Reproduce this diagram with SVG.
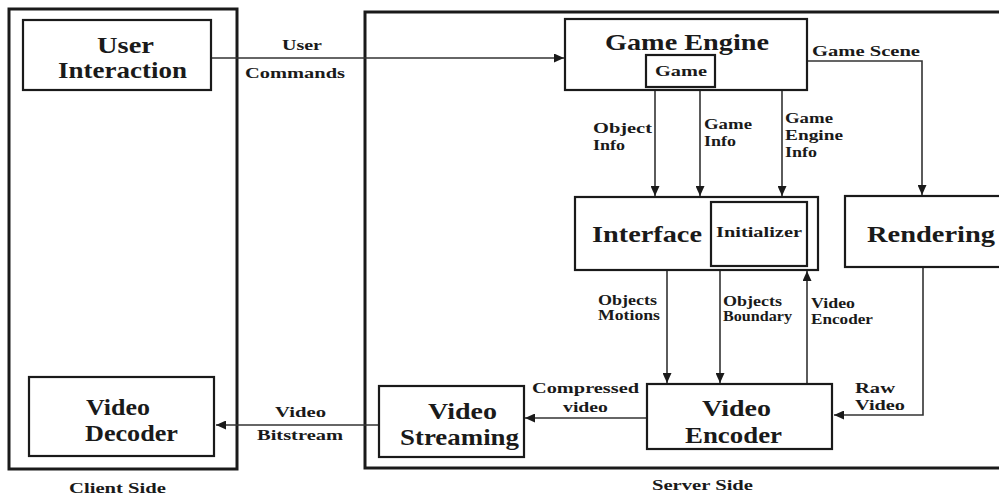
<svg xmlns="http://www.w3.org/2000/svg" width="999" height="497" viewBox="0 0 999 497">
<style>
.c{fill:none;stroke:#1a1a1a;stroke-width:3}
.b{fill:#fff;stroke:#1a1a1a;stroke-width:2.2}
.ib{fill:none;stroke:#1a1a1a;stroke-width:2.2}
.e{fill:none;stroke:#333;stroke-width:1.6}
text{font-family:"Liberation Serif","Times New Roman",serif;font-weight:bold;fill:#1a1a1a}
.L{font-size:23px}
.S{font-size:15px}
</style>
<defs>
<marker id="ah" markerUnits="userSpaceOnUse" markerWidth="11" markerHeight="9" refX="10" refY="4.5" orient="auto">
<path d="M0,0 L10,4.5 L0,9 z" fill="#1a1a1a"/>
</marker>
</defs>
<rect width="999" height="497" fill="#fff"/>
<g id="client-side">
<rect class="c" x="9" y="9" width="228" height="460"/>
<text class="S" x="69" y="493" textLength="97" lengthAdjust="spacingAndGlyphs">Client Side</text>
</g>
<g id="server-side">
<rect class="c" x="365" y="12" width="640" height="456"/>
<text class="S" x="652" y="490" textLength="101" lengthAdjust="spacingAndGlyphs">Server Side</text>
</g>
<g id="connectors">
<path class="e" d="M211,58 H564" marker-end="url(#ah)"/>
<path class="e" d="M807,61 H922 V195" marker-end="url(#ah)"/>
<path class="e" d="M655,90 V196" marker-end="url(#ah)"/>
<path class="e" d="M700,90 V196" marker-end="url(#ah)"/>
<path class="e" d="M782,90 V196" marker-end="url(#ah)"/>
<path class="e" d="M667,270 V383" marker-end="url(#ah)"/>
<path class="e" d="M720,270 V383" marker-end="url(#ah)"/>
<path class="e" d="M807,384 V271" marker-end="url(#ah)"/>
<path class="e" d="M923,267 V415 H834" marker-end="url(#ah)"/>
<path class="e" d="M647,418 H525" marker-end="url(#ah)"/>
<path class="e" d="M379,425 H216" marker-end="url(#ah)"/>
<text class="S" x="282" y="50" textLength="40" lengthAdjust="spacingAndGlyphs">User</text>
<text class="S" x="245" y="78" textLength="100" lengthAdjust="spacingAndGlyphs">Commands</text>
<text class="S" x="812" y="56" textLength="108" lengthAdjust="spacingAndGlyphs">Game Scene</text>
<text class="S" x="593" y="133" textLength="59" lengthAdjust="spacingAndGlyphs">Object</text>
<text class="S" x="593" y="150" textLength="32" lengthAdjust="spacingAndGlyphs">Info</text>
<text class="S" x="704" y="129" textLength="48" lengthAdjust="spacingAndGlyphs">Game</text>
<text class="S" x="704" y="146" textLength="32" lengthAdjust="spacingAndGlyphs">Info</text>
<text class="S" x="785" y="123" textLength="48" lengthAdjust="spacingAndGlyphs">Game</text>
<text class="S" x="785" y="140" textLength="58" lengthAdjust="spacingAndGlyphs">Engine</text>
<text class="S" x="785" y="157" textLength="32" lengthAdjust="spacingAndGlyphs">Info</text>
<text class="S" x="598" y="305" textLength="59" lengthAdjust="spacingAndGlyphs">Objects</text>
<text class="S" x="598" y="320" textLength="62" lengthAdjust="spacingAndGlyphs">Motions</text>
<text class="S" x="723" y="306" textLength="59" lengthAdjust="spacingAndGlyphs">Objects</text>
<text class="S" x="723" y="321" textLength="69" lengthAdjust="spacingAndGlyphs">Boundary</text>
<text class="S" x="811" y="308" textLength="44" lengthAdjust="spacingAndGlyphs">Video</text>
<text class="S" x="811" y="324" textLength="62" lengthAdjust="spacingAndGlyphs">Encoder</text>
<text class="S" x="855" y="393" textLength="40" lengthAdjust="spacingAndGlyphs">Raw</text>
<text class="S" x="855" y="410" textLength="50" lengthAdjust="spacingAndGlyphs">Video</text>
<text class="S" x="532" y="393" textLength="107" lengthAdjust="spacingAndGlyphs">Compressed</text>
<text class="S" x="563" y="412" textLength="45" lengthAdjust="spacingAndGlyphs">video</text>
<text class="S" x="275" y="417" textLength="51" lengthAdjust="spacingAndGlyphs">Video</text>
<text class="S" x="257" y="440" textLength="86" lengthAdjust="spacingAndGlyphs">Bitstream</text>
</g>
<g id="user-interaction">
<rect class="b" x="23" y="20" width="188" height="70"/>
<text class="L" x="97" y="53" textLength="57" lengthAdjust="spacingAndGlyphs">User</text>
<text class="L" x="58" y="78" textLength="129" lengthAdjust="spacingAndGlyphs">Interaction</text>
</g>
<g id="video-decoder">
<rect class="b" x="29" y="377" width="185" height="79"/>
<text class="L" x="86" y="415" textLength="64" lengthAdjust="spacingAndGlyphs">Video</text>
<text class="L" x="85" y="441" textLength="93" lengthAdjust="spacingAndGlyphs">Decoder</text>
</g>
<g id="game-engine">
<rect class="b" x="565" y="19" width="242" height="71"/>
<text class="L" x="605" y="50" textLength="164" lengthAdjust="spacingAndGlyphs">Game Engine</text>
<g id="game">
<rect class="ib" x="646" y="55" width="69" height="32"/>
<text class="S" x="655" y="76" textLength="52" lengthAdjust="spacingAndGlyphs">Game</text>
</g>
</g>
<g id="interface">
<rect class="b" x="575" y="197" width="243" height="73"/>
<text class="L" x="592" y="242" textLength="110" lengthAdjust="spacingAndGlyphs">Interface</text>
<g id="initializer">
<rect class="ib" x="711" y="202" width="96" height="64"/>
<text class="S" x="716" y="237" textLength="86" lengthAdjust="spacingAndGlyphs">Initializer</text>
</g>
</g>
<g id="rendering">
<rect class="b" x="845" y="196" width="160" height="71"/>
<text class="L" x="867" y="242" textLength="128" lengthAdjust="spacingAndGlyphs">Rendering</text>
</g>
<g id="video-encoder">
<rect class="b" x="647" y="384" width="185" height="65"/>
<text class="L" x="702" y="416" textLength="69" lengthAdjust="spacingAndGlyphs">Video</text>
<text class="L" x="685" y="443" textLength="97" lengthAdjust="spacingAndGlyphs">Encoder</text>
</g>
<g id="video-streaming">
<rect class="b" x="379" y="386" width="145" height="71"/>
<text class="L" x="428" y="419" textLength="69" lengthAdjust="spacingAndGlyphs">Video</text>
<text class="L" x="400" y="445" textLength="119" lengthAdjust="spacingAndGlyphs">Streaming</text>
</g>
</svg>
